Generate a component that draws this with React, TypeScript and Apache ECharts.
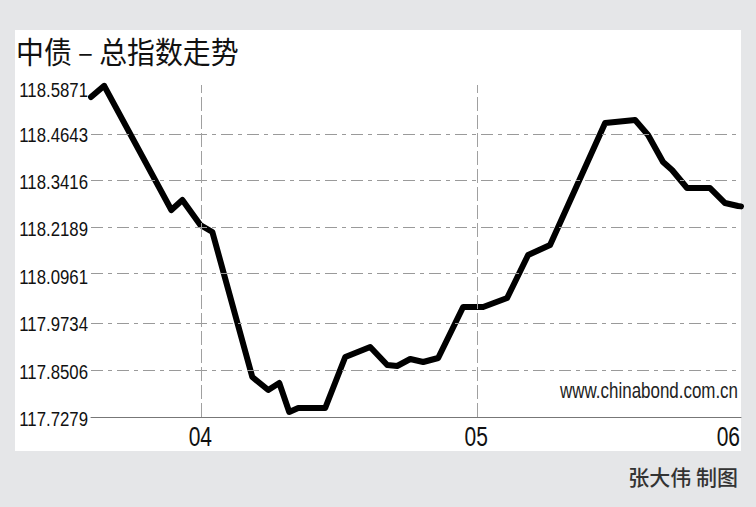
import React, { useEffect, useRef } from "react";
import * as echarts from "echarts";

// x: trading-day index, 0 = start of "04"
const xValues = [-9.2, -8.1, -2.5, -1.58, -0.08, 0.92, 4.25, 5.58, 6.5, 7.33, 8.08, 10.33, 12.0, 12.42, 14.08, 15.5, 16.33, 17.42, 18.5, 19.75, 21.83, 23.5, 25.5, 27.25, 29.08, 33.67, 36.17, 37.25, 38.5, 39.25, 40.5, 42.42, 43.67, 44.75, 45];
const yValues = [118.556, 118.585, 118.2636, 118.2895, 118.2248, 118.2067, 117.8314, 117.7978, 117.8159, 117.7408, 117.7512, 117.7512, 117.8832, 117.8884, 117.909, 117.8625, 117.8599, 117.878, 117.8702, 117.8806, 118.0126, 118.0126, 118.0359, 118.1471, 118.173, 118.4888, 118.4965, 118.4577, 118.3878, 118.3671, 118.3205, 118.3205, 118.2817, 118.274, 118.273];
const yTicks = [117.7279, 117.8506, 117.9734, 118.0961, 118.2189, 118.3416, 118.4643, 118.5871];
const monthTickPos = [0, 23, 45];
const monthLabels = ["04", "05", "06"];

const TITLE = "中债 – 总指数走势";
const SOURCE = "www.chinabond.com.cn";
const CREDIT = "张大伟 制图";

export default function App() {
  const ref = useRef<HTMLDivElement>(null);
  useEffect(() => {
    if (!ref.current) return;
    const chart = echarts.init(ref.current, null, { renderer: "svg" });
    const sans = "'Liberation Sans', Arial, sans-serif";
    const cjk = "'Noto Sans CJK SC', sans-serif";
    const lineData = xValues.map((x, i) => [x, yValues[i]]);
    const yMin = yTicks[0];
    const yMax = yTicks[yTicks.length - 1];
    const xMin = xValues[0];
    const xMax = monthTickPos[monthTickPos.length - 1];
    const dashDot = [12, 5, 4, 5];
    const gridLines: any[] = yTicks.slice(1, yTicks.length - 1).map((v) => ({
      yAxis: v,
      lineStyle: { color: "#9a9a9a", width: 1, type: dashDot },
    }));
    gridLines.push({ yAxis: yMax, lineStyle: { color: "#111", width: 2, type: "solid" } });
    monthTickPos.slice(0, 2).forEach((x) =>
      gridLines.push({ xAxis: x, lineStyle: { color: "#a0a0a0", width: 1, type: [14, 4] } })
    );
    const baseGraphic: any[] = [
      {
        id: "panel",
        type: "rect",
        z: -10,
        shape: { x: 15, y: 30, width: 726, height: 421 },
        style: { fill: "#ffffff" },
      },
      {
        id: "title",
        type: "text",
        x: 16,
        y: 50,
        scaleX: 0.93,
        style: {
          text: TITLE,
          fontFamily: cjk,
          fontSize: 30,
          fontWeight: "normal",
          fill: "#111",
          verticalAlign: "middle",
        },
      },
      {
        id: "source",
        type: "text",
        x: 738,
        y: 390,
        scaleX: 0.77,
        style: {
          text: SOURCE,
          fontFamily: sans,
          fontSize: 22,
          fill: "#222",
          align: "right",
          verticalAlign: "middle",
        },
      },
      {
        id: "credit",
        type: "text",
        x: 738,
        y: 476,
        style: {
          text: CREDIT,
          fontFamily: cjk,
          fontSize: 21,
          fontWeight: 500,
          fill: "#333",
          align: "right",
          verticalAlign: "middle",
        },
      },
    ];
    chart.setOption({
      animation: false,
      backgroundColor: "#e5e6e8",
      grid: { left: 91, right: 15, top: 85, bottom: 90 },
      xAxis: {
        type: "value",
        min: xMin,
        max: xMax,
        axisLine: { show: true, lineStyle: { color: "#777", width: 1 } },
        axisTick: { show: false },
        splitLine: { show: false },
        axisLabel: { show: false },
      },
      yAxis: {
        type: "value",
        min: yMin,
        max: yMax,
        axisLine: { show: false },
        axisTick: { show: false },
        splitLine: { show: false },
        axisLabel: { show: false },
      },
      graphic: { elements: baseGraphic },
      series: [
        {
          type: "line",
          data: [],
          z: 1,
          silent: true,
          markLine: {
            silent: true,
            symbol: "none",
            label: { show: false },
            data: gridLines,
          },
        },
        {
          type: "line",
          z: 3,
          data: lineData,
          symbol: "none",
          clip: false,
          lineStyle: { color: "#000", width: 6, join: "round", cap: "round" },
        },
      ],
    });
    // axis labels in a condensed look, positioned through the chart's own scales
    const labelEls: any[] = [];
    yTicks.forEach((v, i) => {
      const p = chart.convertToPixel({ gridIndex: 0 }, [xMin, v]) as number[];
      labelEls.push({
        id: "ylab" + i,
        type: "text",
        x: p[0] - 3,
        y: p[1] + (i === yTicks.length - 1 ? 5 : 2),
        scaleX: 0.8,
        style: {
          text: v.toFixed(4),
          fontFamily: sans,
          fontSize: 21,
          fill: "#111",
          align: "right",
          verticalAlign: "middle",
        },
      });
    });
    monthTickPos.forEach((x, i) => {
      const p = chart.convertToPixel({ gridIndex: 0 }, [x, yMin]) as number[];
      const last = i === monthTickPos.length - 1;
      labelEls.push({
        id: "xlab" + i,
        type: "text",
        x: p[0] - 1,
        y: p[1] + 19,
        scaleX: 0.75,
        style: {
          text: monthLabels[i],
          fontFamily: sans,
          fontSize: 28,
          fill: "#111",
          align: last ? "right" : "center",
          verticalAlign: "middle",
        },
      });
    });
    chart.setOption({ graphic: { elements: baseGraphic.concat(labelEls) } });
    return () => chart.dispose();
  }, []);
  return (
    <div
      ref={ref}
      style={{ position: "fixed", left: 0, top: 0, width: 756, height: 507 }}
    />
  );
}
